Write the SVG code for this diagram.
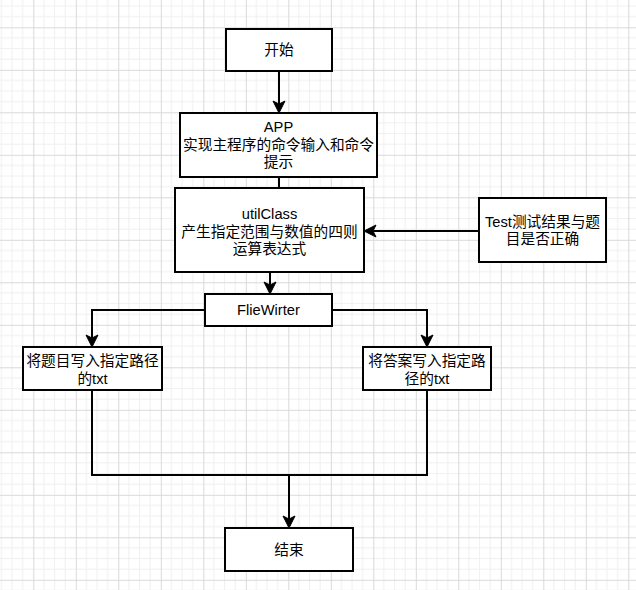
<svg xmlns="http://www.w3.org/2000/svg" width="636" height="590" viewBox="0 0 636 590">
  <style>
    .box { fill: #ffffff; stroke: #000000; stroke-width: 2; }
    .conn { fill: none; stroke: #000000; stroke-width: 2; }
    .t { font-family: "Liberation Sans", "Noto Sans CJK SC", sans-serif; font-size: 14.7px; fill: #000000; text-anchor: middle; }
  </style>
  <defs>
    <pattern id="grid" patternUnits="userSpaceOnUse" x="33.3" y="27.3" width="42.5" height="42.5">
      <path d="M10.625,0 V42.5 M21.25,0 V42.5 M31.875,0 V42.5 M0,10.625 H42.5 M0,21.25 H42.5 M0,31.875 H42.5" stroke="#f0f0f0" stroke-width="1" fill="none"/>
      <path d="M0.5,0 V42.5 M0,0.5 H42.5" stroke="#d9d9d9" stroke-width="1" fill="none"/>
    </pattern>
    <marker id="arrow" markerUnits="userSpaceOnUse" markerWidth="14" markerHeight="14" viewBox="-1 -7 14 14" refX="8" refY="0" orient="auto">
      <path d="M0,-6 L12,0 L0,6 L3,0 Z" fill="#000000" stroke="#000000" stroke-width="1"/>
    </marker>
  </defs>
  <rect x="0" y="0" width="636" height="590" fill="#ffffff"/>
  <rect x="0" y="0" width="636" height="590" fill="url(#grid)"/>

  <g id="connectors">
    <path class="conn" d="M279,71 V109" marker-end="url(#arrow)"/>
    <path class="conn" d="M279,177 V188"/>
    <path class="conn" d="M270,272 V290" marker-end="url(#arrow)"/>
    <path class="conn" d="M479,231 H368" marker-end="url(#arrow)"/>
    <path class="conn" d="M205,310 H92 V343" marker-end="url(#arrow)"/>
    <path class="conn" d="M332,310 H427 V343" marker-end="url(#arrow)"/>
    <path class="conn" d="M92,390 V475 H289 V524" marker-end="url(#arrow)"/>
    <path class="conn" d="M427,390 V475 H289"/>
  </g>

  <g id="start">
    <rect class="box" x="226" y="29" width="106" height="42"/>
    <text class="t" x="279" y="55">开始</text>
  </g>
  <g id="app">
    <rect class="box" x="180" y="113" width="197" height="64"/>
    <text class="t" x="278.5" y="132">APP</text>
    <text class="t" x="278.5" y="149.6">实现主程序的命令输入和命令</text>
    <text class="t" x="278.5" y="167.2">提示</text>
  </g>
  <g id="utilclass">
    <rect class="box" x="175" y="188" width="189" height="84"/>
    <text class="t" x="269.5" y="219">utilClass</text>
    <text class="t" x="269.5" y="236.6">产生指定范围与数值的四则</text>
    <text class="t" x="269.5" y="254.2">运算表达式</text>
  </g>
  <g id="test">
    <rect class="box" x="479" y="198" width="127" height="64"/>
    <text class="t" x="542.5" y="226.5">Test测试结果与题</text>
    <text class="t" x="542.5" y="244.1">目是否正确</text>
  </g>
  <g id="filewriter">
    <rect class="box" x="205" y="294" width="127" height="32"/>
    <text class="t" x="268.5" y="315">FlieWirter</text>
  </g>
  <g id="write-questions">
    <rect class="box" x="23" y="347" width="139" height="43"/>
    <text class="t" x="92.5" y="366">将题目写入指定路径</text>
    <text class="t" x="92.5" y="383.6">的txt</text>
  </g>
  <g id="write-answers">
    <rect class="box" x="363" y="347" width="128" height="43"/>
    <text class="t" x="427" y="366">将答案写入指定路</text>
    <text class="t" x="427" y="383.6">径的txt</text>
  </g>
  <g id="end">
    <rect class="box" x="225" y="528" width="128" height="43"/>
    <text class="t" x="289" y="555">结束</text>
  </g>
</svg>
